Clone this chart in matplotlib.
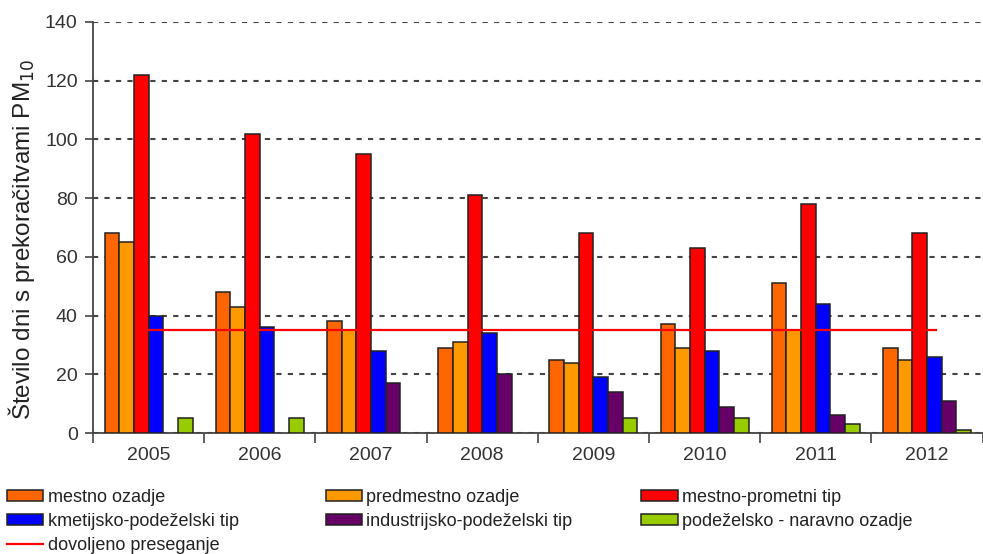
import matplotlib
matplotlib.use("Agg")
import matplotlib.pyplot as plt
import matplotlib.patches as mpatches
import numpy as np

plt.rcParams['font.family'] = ['Liberation Sans', 'DejaVu Sans']

years = ['2005', '2006', '2007', '2008', '2009', '2010', '2011', '2012']

series_names = ['mestno ozadje', 'predmestno ozadje', 'mestno-prometni tip',
                'kmetijsko-podeželski tip', 'industrijsko-podeželski tip',
                'podeželsko - naravno ozadje']
series_colors = ['#FF6600', '#FF9900', '#FF0000', '#0000FF', '#660066', '#99CC00']

mestno = [68, 48, 38, 29, 25, 37, 51, 29]
predmestno = [65, 43, 35, 31, 24, 29, 35, 25]
prometni = [122, 102, 95, 81, 68, 63, 78, 68]
kmetijsko = [40, 36, 28, 34, 19, 28, 44, 26]
industrijsko = [0, 0, 17, 20, 14, 9, 6, 11]
podezelsko = [5, 5, 0, 0, 5, 5, 3, 1]
series = [mestno, predmestno, prometni, kmetijsko, industrijsko, podezelsko]

limit_value = 35
limit_label = 'dovoljeno preseganje'

fig = plt.figure(figsize=(9.83, 5.54), dpi=100)
ax = fig.add_axes([0.0946, 0.2184, 0.905, 0.742])

X = np.arange(len(years))
w = 0.132
handles = []
for i, (vals, col, name) in enumerate(zip(series, series_colors, series_names)):
    b = ax.bar(X + (i - 2.5) * w, vals, width=w, color=col, edgecolor='#222222',
               linewidth=1.1, zorder=3)
    # empty bars should not leave an outline on the axis
    for p, v in zip(b.patches, vals):
        if v == 0:
            p.set_visible(False)
    handles.append(mpatches.Patch(facecolor=col, edgecolor='#222222', linewidth=1.1,
                                  label=name))

line, = ax.plot([X[0], X[-1] + 0.08], [limit_value, limit_value], color='#FF0000',
                linewidth=1.6, zorder=4, label=limit_label)

ax.set_xlim(-0.5, len(years) - 0.5)
ax.set_ylim(0, 140)
ax.set_yticks(np.arange(0, 141, 20))
ax.yaxis.grid(True, linestyle=(0, (2.5, 3)), color='#444444', linewidth=1.5, zorder=0)
ax.set_axisbelow(True)

ax.set_xticks(X)
ax.set_xticklabels(years)
ax.set_xticks(np.arange(-0.5, len(years)), minor=True)
ax.tick_params(axis='x', which='major', length=0, pad=10, labelsize=14, colors='#333333')
ax.tick_params(axis='x', which='minor', length=7, width=1.2, color='#444444')
ax.tick_params(axis='y', length=6, width=1.2, color='#444444', labelsize=14,
               labelcolor='#333333', pad=5)

for s in ['top', 'right']:
    ax.spines[s].set_visible(False)
for s in ['left', 'bottom']:
    ax.spines[s].set_color('#444444')
    ax.spines[s].set_linewidth(1.3)

ax.set_ylabel(r'Število dni s prekoračitvami PM$_{10}$', fontsize=17.5, color='#222222')
ax.yaxis.set_label_coords(-0.063, 0.47)

# legend in three fixed columns
cols = [[handles[0], handles[3], line], [handles[1], handles[4]], [handles[2], handles[5]]]
xs = [0.002, 0.326, 0.647]
for hs, x in zip(cols, xs):
    leg = fig.legend(hs, [h.get_label() for h in hs], loc='upper left',
                     bbox_to_anchor=(x, 0.127), frameon=False, fontsize=13,
                     handlelength=2.0, handleheight=0.55, handletextpad=0.25,
                     labelspacing=0.38, borderaxespad=0, borderpad=0.3)
    for t in leg.get_texts():
        t.set_color('#222222')

plt.savefig('out.png', dpi=100)
